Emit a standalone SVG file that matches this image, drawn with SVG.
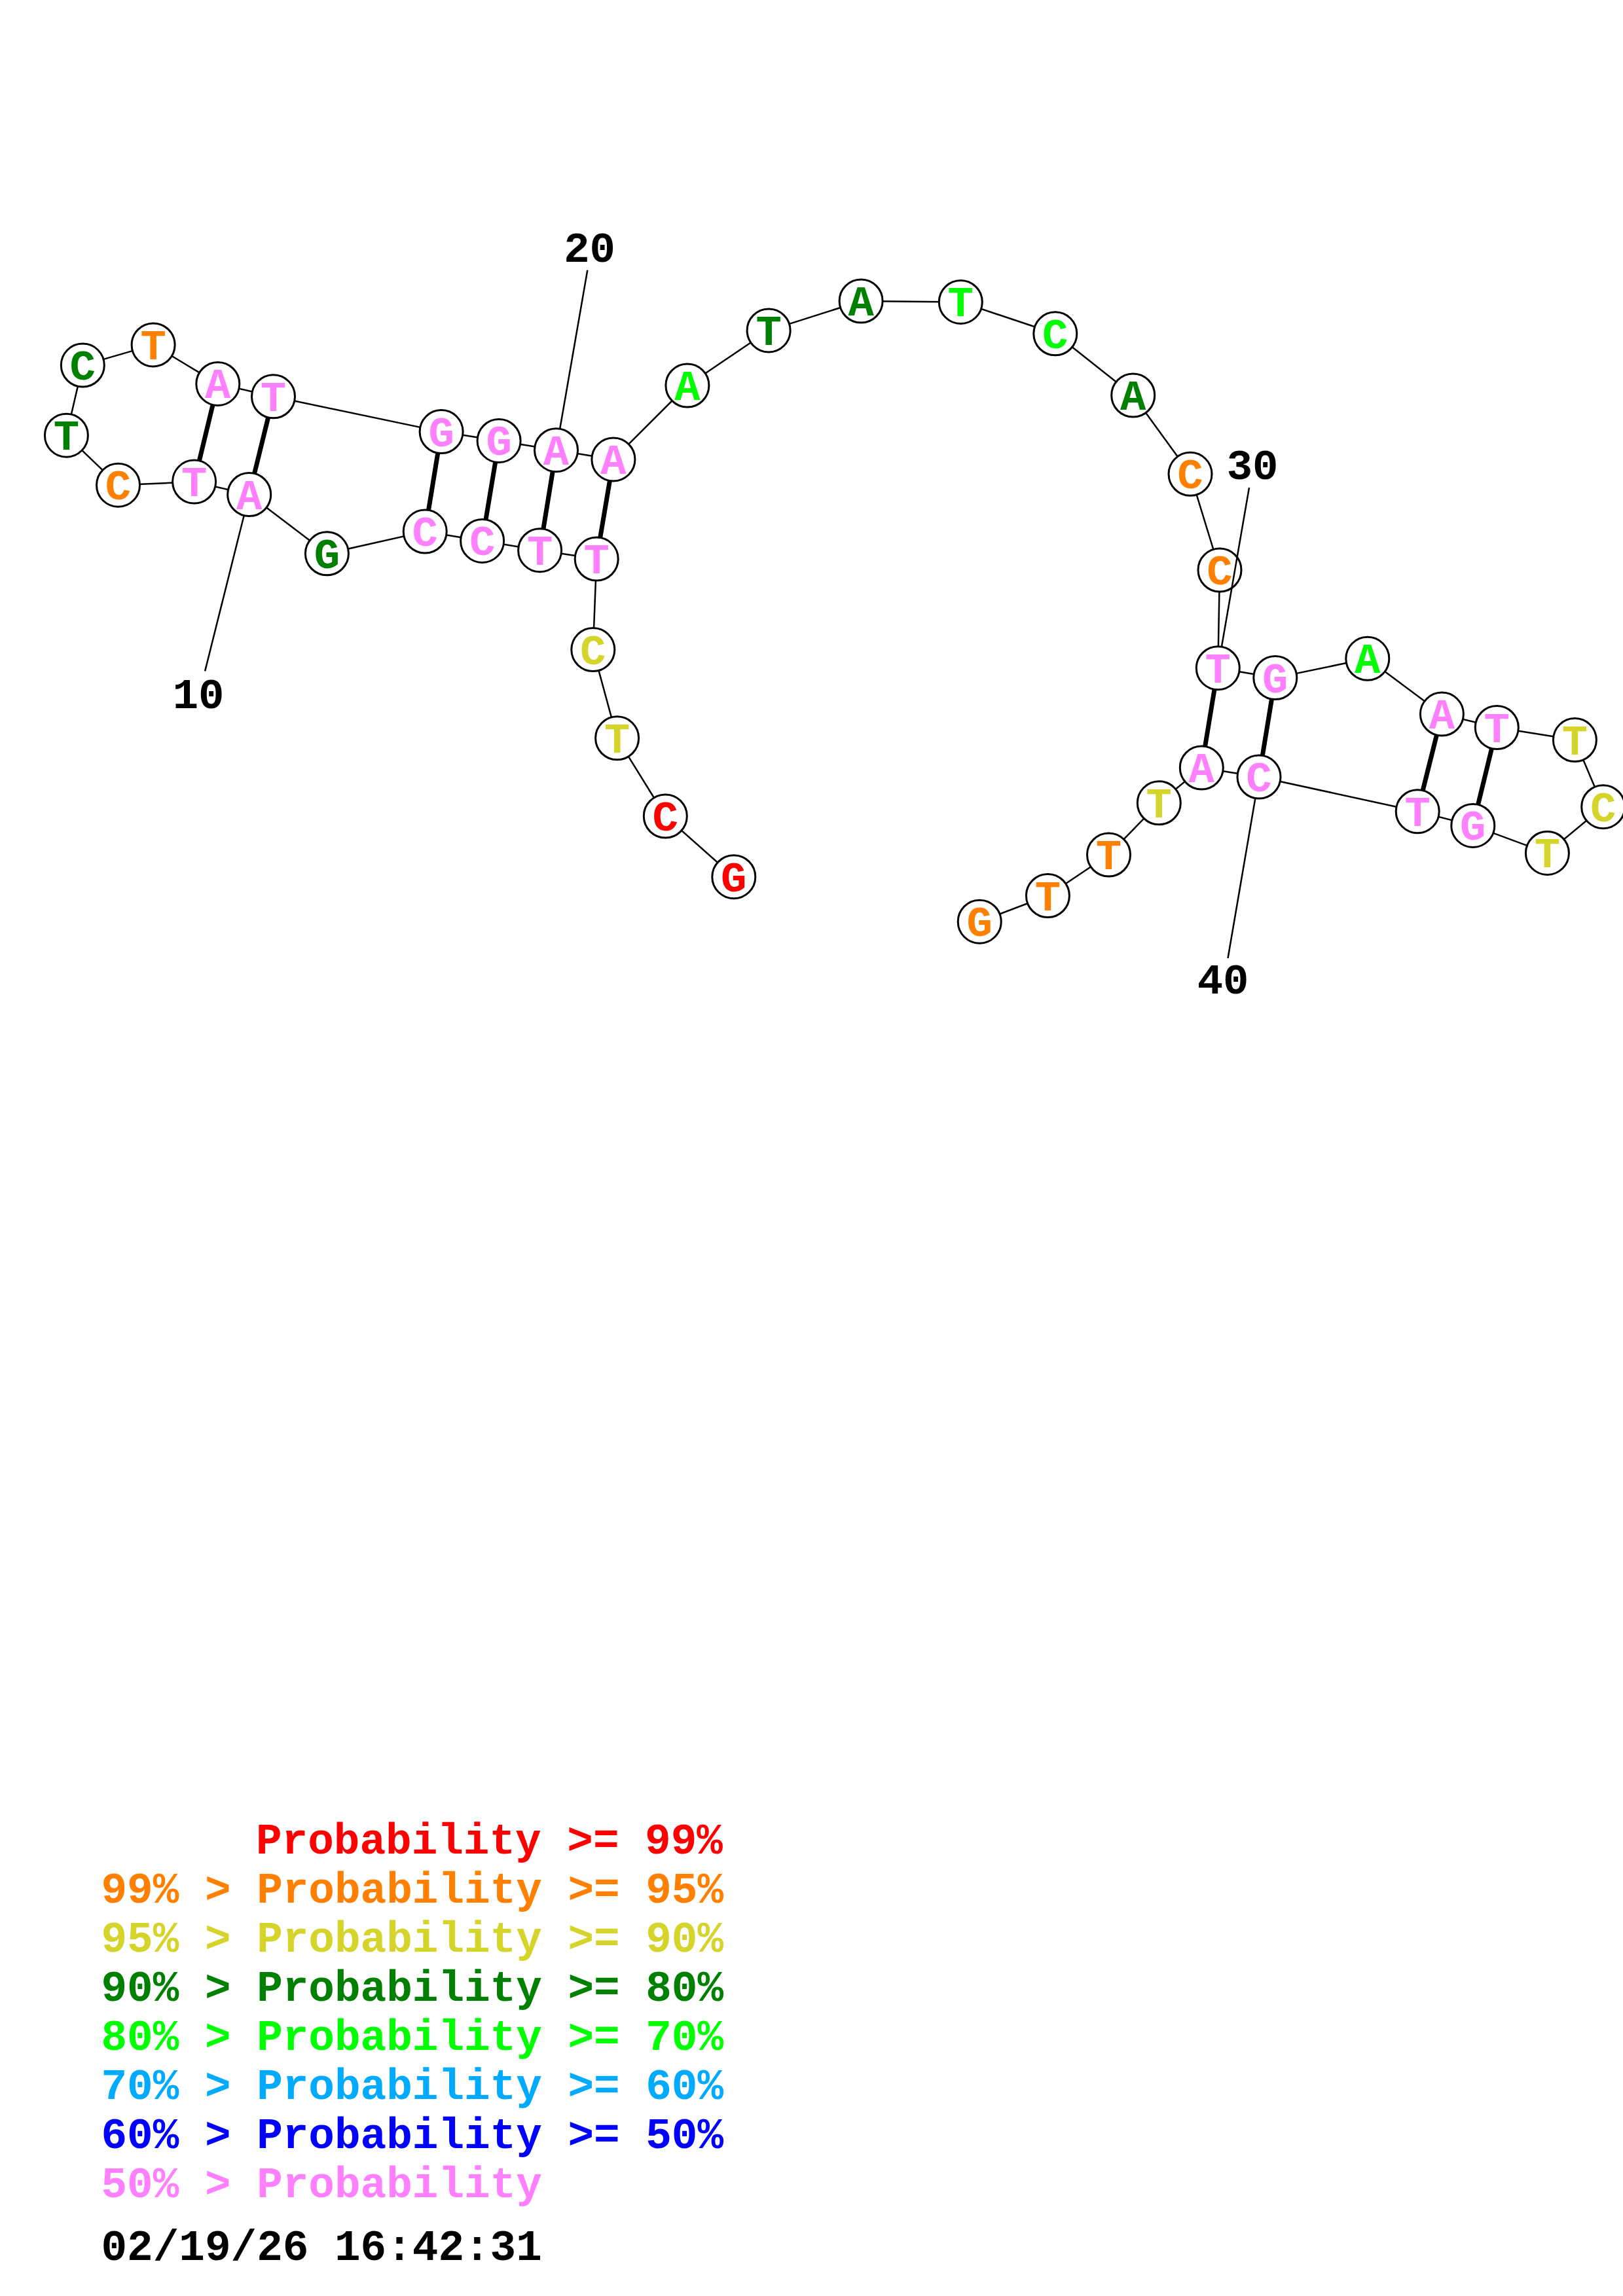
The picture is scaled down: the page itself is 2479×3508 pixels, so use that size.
<svg xmlns="http://www.w3.org/2000/svg" width="2479" height="3508" viewBox="0 0 2479 3508">
<style>
.bb{fill:none;stroke:#000;stroke-width:2.5;stroke-linejoin:round}
.pr{stroke:#000;stroke-width:7;stroke-linecap:butt}
.tk{stroke:#000;stroke-width:2.5}
.nd circle{fill:#fff;stroke:#000;stroke-width:3}
.nd text,.lb,.lg{font-family:"Liberation Mono","Courier New",monospace;font-weight:bold;font-size:65.6px}
.lg{font-size:66px}
.nd text{text-anchor:middle}
.lb{text-anchor:middle;fill:#000}
.r{fill:#ff0000}.o{fill:#ff8000}.y{fill:#d4d42a}.d{fill:#008000}.l{fill:#00ff00}.c{fill:#00aaff}.b{fill:#0000ff}.p{fill:#ff80ff}.k{fill:#000}
</style>
<rect width="2479" height="3508" fill="#fff"/>
<g id="connectors">
<polyline class="bb" points="1120.8,1339.7 1016.3,1247 942.6,1127.8 905.8,992.6 911.2,854.1 824.6,840.7 736.6,826.4 649.2,812.1 499.4,845.8 380.7,755.5 296.6,736.1 180.5,741.2 101.4,665.2 126.3,558.1 234.1,526.9 332.8,586.4 417.5,605.8 674.1,659.6 762.1,673.4 849.5,687.7 936.9,701.9 1049.9,589 1174.1,504.9 1315.1,460 1467.3,461.4 1611.8,509.8 1730.7,604 1818,724.3 1863,871 1860.3,1020.7 1947.8,1035.6 2088.8,1006.3 2202.4,1091.1 2286.3,1111.5 2405.4,1130.6 2448.7,1232.7 2363.4,1303.4 2249.8,1261.4 2165.2,1239.7 1923,1187 1835.3,1173 1770.3,1226.8 1693.5,1306 1600.4,1368.5 1496.2,1408.2"/>
<line class="pr" x1="332.8" y1="586.4" x2="296.6" y2="736.1"/>
<line class="pr" x1="417.5" y1="605.8" x2="380.7" y2="755.5"/>
<line class="pr" x1="674.1" y1="659.6" x2="649.2" y2="812.1"/>
<line class="pr" x1="762.1" y1="673.4" x2="736.6" y2="826.4"/>
<line class="pr" x1="849.5" y1="687.7" x2="824.6" y2="840.7"/>
<line class="pr" x1="936.9" y1="701.9" x2="911.2" y2="854.1"/>
<line class="pr" x1="1860.3" y1="1020.7" x2="1835.3" y2="1173"/>
<line class="pr" x1="1947.8" y1="1035.6" x2="1923" y2="1187"/>
<line class="pr" x1="2202.4" y1="1091.1" x2="2165.2" y2="1239.7"/>
<line class="pr" x1="2286.3" y1="1111.5" x2="2249.8" y2="1261.4"/>
</g>
<g id="n1" class="nd"><circle cx="1120.8" cy="1339.7" r="33"/><text class="r" x="1120.8" y="1361.7">G</text></g>
<g id="n2" class="nd"><circle cx="1016.3" cy="1247" r="33"/><text class="r" x="1016.3" y="1269">C</text></g>
<g id="n3" class="nd"><circle cx="942.6" cy="1127.8" r="33"/><text class="y" x="942.6" y="1149.8">T</text></g>
<g id="n4" class="nd"><circle cx="905.8" cy="992.6" r="33"/><text class="y" x="905.8" y="1014.6">C</text></g>
<g id="n5" class="nd"><circle cx="911.2" cy="854.1" r="33"/><text class="p" x="911.2" y="876.1">T</text></g>
<g id="n6" class="nd"><circle cx="824.6" cy="840.7" r="33"/><text class="p" x="824.6" y="862.7">T</text></g>
<g id="n7" class="nd"><circle cx="736.6" cy="826.4" r="33"/><text class="p" x="736.6" y="848.4">C</text></g>
<g id="n8" class="nd"><circle cx="649.2" cy="812.1" r="33"/><text class="p" x="649.2" y="834.1">C</text></g>
<g id="n9" class="nd"><circle cx="499.4" cy="845.8" r="33"/><text class="d" x="499.4" y="867.8">G</text></g>
<g id="n10" class="nd"><circle cx="380.7" cy="755.5" r="33"/><text class="p" x="380.7" y="777.5">A</text></g>
<g id="n11" class="nd"><circle cx="296.6" cy="736.1" r="33"/><text class="p" x="296.6" y="758.1">T</text></g>
<g id="n12" class="nd"><circle cx="180.5" cy="741.2" r="33"/><text class="o" x="180.5" y="763.2">C</text></g>
<g id="n13" class="nd"><circle cx="101.4" cy="665.2" r="33"/><text class="d" x="101.4" y="687.2">T</text></g>
<g id="n14" class="nd"><circle cx="126.3" cy="558.1" r="33"/><text class="d" x="126.3" y="580.1">C</text></g>
<g id="n15" class="nd"><circle cx="234.1" cy="526.9" r="33"/><text class="o" x="234.1" y="548.9">T</text></g>
<g id="n16" class="nd"><circle cx="332.8" cy="586.4" r="33"/><text class="p" x="332.8" y="608.4">A</text></g>
<g id="n17" class="nd"><circle cx="417.5" cy="605.8" r="33"/><text class="p" x="417.5" y="627.8">T</text></g>
<g id="n18" class="nd"><circle cx="674.1" cy="659.6" r="33"/><text class="p" x="674.1" y="681.6">G</text></g>
<g id="n19" class="nd"><circle cx="762.1" cy="673.4" r="33"/><text class="p" x="762.1" y="695.4">G</text></g>
<g id="n20" class="nd"><circle cx="849.5" cy="687.7" r="33"/><text class="p" x="849.5" y="709.7">A</text></g>
<g id="n21" class="nd"><circle cx="936.9" cy="701.9" r="33"/><text class="p" x="936.9" y="723.9">A</text></g>
<g id="n22" class="nd"><circle cx="1049.9" cy="589" r="33"/><text class="l" x="1049.9" y="611">A</text></g>
<g id="n23" class="nd"><circle cx="1174.1" cy="504.9" r="33"/><text class="d" x="1174.1" y="526.9">T</text></g>
<g id="n24" class="nd"><circle cx="1315.1" cy="460" r="33"/><text class="d" x="1315.1" y="482">A</text></g>
<g id="n25" class="nd"><circle cx="1467.3" cy="461.4" r="33"/><text class="l" x="1467.3" y="483.4">T</text></g>
<g id="n26" class="nd"><circle cx="1611.8" cy="509.8" r="33"/><text class="l" x="1611.8" y="531.8">C</text></g>
<g id="n27" class="nd"><circle cx="1730.7" cy="604" r="33"/><text class="d" x="1730.7" y="626">A</text></g>
<g id="n28" class="nd"><circle cx="1818" cy="724.3" r="33"/><text class="o" x="1818" y="746.3">C</text></g>
<g id="n29" class="nd"><circle cx="1863" cy="871" r="33"/><text class="o" x="1863" y="893">C</text></g>
<g id="n30" class="nd"><circle cx="1860.3" cy="1020.7" r="33"/><text class="p" x="1860.3" y="1042.7">T</text></g>
<g id="n31" class="nd"><circle cx="1947.8" cy="1035.6" r="33"/><text class="p" x="1947.8" y="1057.6">G</text></g>
<g id="n32" class="nd"><circle cx="2088.8" cy="1006.3" r="33"/><text class="l" x="2088.8" y="1028.3">A</text></g>
<g id="n33" class="nd"><circle cx="2202.4" cy="1091.1" r="33"/><text class="p" x="2202.4" y="1113.1">A</text></g>
<g id="n34" class="nd"><circle cx="2286.3" cy="1111.5" r="33"/><text class="p" x="2286.3" y="1133.5">T</text></g>
<g id="n35" class="nd"><circle cx="2405.4" cy="1130.6" r="33"/><text class="y" x="2405.4" y="1152.6">T</text></g>
<g id="n36" class="nd"><circle cx="2448.7" cy="1232.7" r="33"/><text class="y" x="2448.7" y="1254.7">C</text></g>
<g id="n37" class="nd"><circle cx="2363.4" cy="1303.4" r="33"/><text class="y" x="2363.4" y="1325.4">T</text></g>
<g id="n38" class="nd"><circle cx="2249.8" cy="1261.4" r="33"/><text class="p" x="2249.8" y="1283.4">G</text></g>
<g id="n39" class="nd"><circle cx="2165.2" cy="1239.7" r="33"/><text class="p" x="2165.2" y="1261.7">T</text></g>
<g id="n40" class="nd"><circle cx="1923" cy="1187" r="33"/><text class="p" x="1923" y="1209">C</text></g>
<g id="n41" class="nd"><circle cx="1835.3" cy="1173" r="33"/><text class="p" x="1835.3" y="1195">A</text></g>
<g id="n42" class="nd"><circle cx="1770.3" cy="1226.8" r="33"/><text class="y" x="1770.3" y="1248.8">T</text></g>
<g id="n43" class="nd"><circle cx="1693.5" cy="1306" r="33"/><text class="o" x="1693.5" y="1328">T</text></g>
<g id="n44" class="nd"><circle cx="1600.4" cy="1368.5" r="33"/><text class="o" x="1600.4" y="1390.5">T</text></g>
<g id="n45" class="nd"><circle cx="1496.2" cy="1408.2" r="33"/><text class="o" x="1496.2" y="1430.2">G</text></g>
<g id="tick-lines">
<line class="tk" x1="313.1" y1="1025.4" x2="372.7" y2="787.5"/>
<line class="tk" x1="897.3" y1="412.7" x2="855.2" y2="655.2"/>
<line class="tk" x1="1908" y1="745" x2="1865.9" y2="988.2"/>
<line class="tk" x1="1875.5" y1="1464" x2="1917.4" y2="1219.5"/>
</g>
<g id="tick-labels">
<text class="lb" x="303" y="1082">10</text>
<text class="lb" x="900.5" y="400">20</text>
<text class="lb" x="1913" y="732">30</text>
<text class="lb" x="1868" y="1518">40</text>
</g>
<g id="legend">
<text class="lg r" x="391" y="2831.7">Probability &gt;= 99%</text>
<text class="lg o" x="154.5" y="2906.8">99% &gt; Probability &gt;= 95%</text>
<text class="lg y" x="154.5" y="2981.9">95% &gt; Probability &gt;= 90%</text>
<text class="lg d" x="154.5" y="3057">90% &gt; Probability &gt;= 80%</text>
<text class="lg l" x="154.5" y="3132.1">80% &gt; Probability &gt;= 70%</text>
<text class="lg c" x="154.5" y="3207.2">70% &gt; Probability &gt;= 60%</text>
<text class="lg b" x="154.5" y="3282.3">60% &gt; Probability &gt;= 50%</text>
<text class="lg p" x="154.5" y="3357.4">50% &gt; Probability</text>
<text class="lg k" x="154.5" y="3453">02/19/26 16:42:31</text>
</g>
</svg>
